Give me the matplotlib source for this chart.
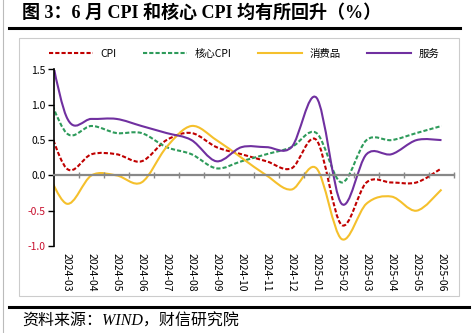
import numpy as np
import matplotlib
matplotlib.use("Agg")
import matplotlib.pyplot as plt
from matplotlib.path import Path
from matplotlib.patches import PathPatch, Rectangle
from matplotlib.lines import Line2D
import matplotlib.transforms as mtransforms

# datos (2024-02 queda recortado por el eje, solo se ve su tramo final)
meses = ["2024-02", "2024-03", "2024-04", "2024-05", "2024-06", "2024-07", "2024-08",
         "2024-09", "2024-10", "2024-11", "2024-12", "2025-01", "2025-02", "2025-03",
         "2025-04", "2025-05", "2025-06"]
cpi = [1.0, 0.1, 0.3, 0.3, 0.2, 0.5, 0.6, 0.4, 0.3, 0.2, 0.1, 0.5, -0.7, -0.1, -0.1, -0.1, 0.1]
core_cpi = [1.4, 0.6, 0.7, 0.6, 0.6, 0.4, 0.3, 0.1, 0.2, 0.3, 0.4, 0.6, -0.1, 0.5, 0.5, 0.6, 0.7]
goods = [0.25, -0.4, 0.0, 0.0, -0.1, 0.4, 0.7, 0.5, 0.25, 0.0, -0.2, 0.1, -0.9, -0.4, -0.3, -0.5, -0.2]
services = [2.4, 0.83, 0.8, 0.8, 0.7, 0.6, 0.5, 0.2, 0.4, 0.4, 0.4, 1.1, -0.4, 0.3, 0.3, 0.5, 0.5]

series = [
    ("CPI", cpi, "#C00000", (0, (2, 1))),
    ("核心CPI", core_cpi, "#2E9B5B", (0, (2, 1))),
    ("消费品", goods, "#F5C02C", "-"),
    ("服务", services, "#7030A0", "-"),
]

plt.rcParams['font.family'] = ['Noto Sans CJK SC', 'DejaVu Sans']


def suave(x, y):
    # curva suavizada tipo Excel (Catmull-Rom a Bezier cúbica)
    pts = np.column_stack([x, y]).astype(float)
    n = len(pts)
    verts = [pts[0]]
    codes = [Path.MOVETO]
    for i in range(n - 1):
        p0 = pts[max(i - 1, 0)]
        p1 = pts[i]
        p2 = pts[i + 1]
        p3 = pts[min(i + 2, n - 1)]
        verts += [p1 + (p2 - p0) / 6, p2 - (p3 - p1) / 6, p2]
        codes += [Path.CURVE4] * 3
    return Path(verts, codes)


fig = plt.figure(figsize=(4.74, 3.33), dpi=100)
ax = fig.add_axes([54 / 474, 87 / 333, 400 / 474, 176.5 / 333])

x = np.arange(len(meses))
handles = []
for nombre, vals, color, ls in series:
    patch = PathPatch(suave(x, vals), facecolor="none", edgecolor=color,
                      lw=1.5, linestyle=ls, capstyle="butt")
    ax.add_patch(patch)
    handles.append(Line2D([], [], color=color, lw=1.5, linestyle=ls, label=nombre))

ax.set_xlim(0.5, len(meses) - 0.5)
ax.set_ylim(-1.0, 1.5)

# eje y
ax.set_yticks([-1.0, -0.5, 0.0, 0.5, 1.0, 1.5])
ax.set_yticklabels(["%.1f" % v for v in [-1.0, -0.5, 0.0, 0.5, 1.0, 1.5]], fontsize=7.5)
for lab, v in zip(ax.get_yticklabels(), [-1.0, -0.5, 0.0, 0.5, 1.0, 1.5]):
    if v < 0:
        lab.set_color("#C8102E")
ax.tick_params(axis="y", direction="out", length=4, width=1, pad=2)
ax.spines["left"].set_linewidth(1.2)

# eje x en cero
ax.spines["top"].set_visible(False)
ax.spines["right"].set_visible(False)
ax.spines["bottom"].set_position(("data", 0))
ax.spines["bottom"].set_color("#888888")
ax.spines["bottom"].set_linewidth(1.6)
ax.set_xticks(np.arange(1.5, len(meses), 1))
ax.set_xticklabels([])
ax.tick_params(axis="x", direction="inout", length=4, width=1, color="#888888")

trans = mtransforms.blended_transform_factory(ax.transData, ax.transAxes)
for i, m in enumerate(meses):
    if i == 0:
        continue
    ax.text(i, -0.04, m, transform=trans, rotation=-90, ha="center", va="top", fontsize=7.5)

# leyenda
fig.legend(handles=handles, loc="center", bbox_to_anchor=(0.515, 0.838), ncol=4,
           frameon=False, fontsize=7.5, handlelength=4.2, handletextpad=0.7,
           columnspacing=2.6)

# marco y títulos
fig.add_artist(Rectangle((19 / 474, 1 - 296 / 333), 440 / 474, 258 / 333,
                         transform=fig.transFigure, fill=False, edgecolor="#CCCCCC", lw=0.8,
                         zorder=0))
fig.add_artist(Line2D([9 / 474, 460 / 474], [1 - 28 / 333] * 2, color="black", lw=2.2))
fig.add_artist(Line2D([9 / 474, 469 / 474], [1 - 307 / 333] * 2, color="black", lw=2.2))
fig.add_artist(Line2D([2.5 / 474] * 2, [0, 1], color="#BBBBBB", lw=0.8))

fig.text(22 / 474, 1 - 13 / 333, "图 3：6 月 CPI 和核心 CPI 均有所回升（%）",
         family=["Liberation Serif", "Noto Sans CJK SC"], fontweight="bold",
         fontsize=13, va="center", ha="left")
fig.text(22 / 474, 1 - 322 / 333, "资料来源：WIND，财信研究院",
         family=["Liberation Serif", "Noto Sans CJK SC"], style="italic",
         fontsize=11.5, va="center", ha="left")

fig.savefig("out.png", dpi=100)
